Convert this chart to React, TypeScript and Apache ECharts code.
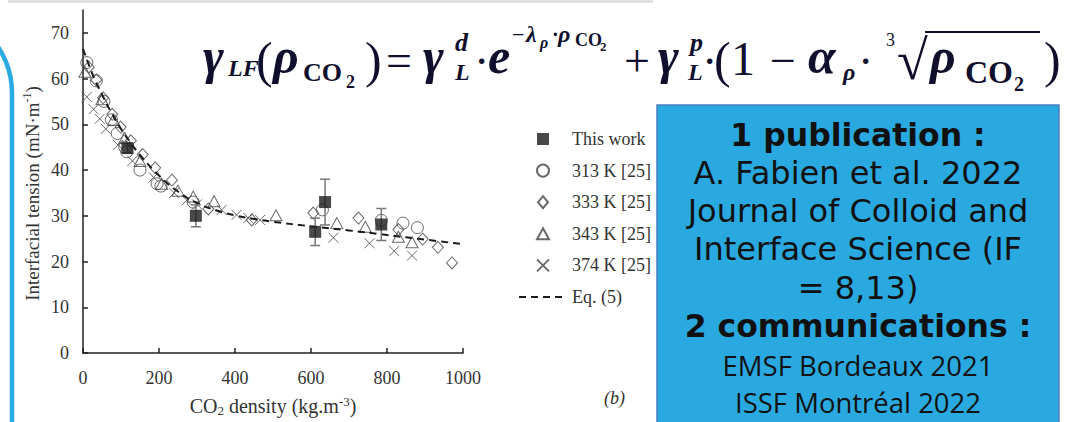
import React, { useEffect, useRef } from "react";
import * as echarts from "echarts";

const xTicks = [0, 200, 400, 600, 800, 1000];
const yTicks = [0, 10, 20, 30, 40, 50, 60, 70];

const thisWorkX = [117, 297, 611, 637, 785];
const thisWorkY = [44.8, 30.0, 26.5, 33.0, 28.1];
const thisWorkErr = [1.0, 2.4, 3.0, 5.0, 3.5];

const k313X = [10, 35, 55, 75, 90, 110, 115, 150, 195, 205, 290, 630, 785, 842, 880];
const k313Y = [63.5, 59.5, 55, 51, 48, 45, 44, 40, 37, 36.5, 33, 31.3, 29, 28.4, 27.4];

const k333X = [15, 35, 53, 77, 99, 126, 157, 190, 234, 330, 444, 606, 725, 830, 894, 934, 971];
const k333Y = [62.5, 59.7, 55.8, 52.2, 49.4, 46.4, 43.4, 40.5, 37.8, 31.5, 29.1, 30.6, 29.5, 27, 24.9, 23.1, 19.7];

const k343X = [5, 50, 80, 110, 150, 207, 250, 290, 345, 508, 668, 743, 830, 866];
const k343Y = [61.5, 55.5, 51, 47, 42, 37, 35.5, 34.2, 33.2, 30.1, 28.4, 27.6, 25.4, 24.2];

const k374X = [10, 28, 44, 60, 92, 130, 186, 240, 273, 300, 365, 404, 435, 466, 659, 754, 819, 866];
const k374Y = [56, 53.3, 51.2, 49, 45.5, 42, 38.4, 35, 33.4, 32.5, 31.3, 30.2, 29.5, 29.1, 25.2, 24, 22.3, 21.3];

const eqX = [0, 25, 50, 75, 100, 125, 150, 200, 250, 300, 350, 400, 450, 500, 600, 700, 800, 900, 1000];
const eqY = [66.5, 61, 56.5, 52.5, 49, 46, 43.3, 38.8, 35.3, 32.8, 31.2, 30.1, 29.3, 28.7, 27.7, 26.8, 25.8, 24.8, 23.8];

const legendNames = ["This work", "313 K [25]", "333 K [25]", "343 K [25]", "374 K [25]", "Eq. (5)"];

const boxLines = [
  "1 publication :",
  "A. Fabien et al. 2022",
  "Journal of Colloid and",
  "Interface Science (IF",
  "= 8,13)",
  "2 communications :",
  "EMSF Bordeaux 2021",
  "ISSF Montréal 2022",
];

const SERIF = "Liberation Serif";
const MATH = "#10102e";

function ft(text: string, x: number, y: number, size: number, bold = true, italic = true) {
  return {
    type: "text",
    x,
    y,
    z: 100,
    style: {
      text,
      fontFamily: SERIF,
      fontSize: size,
      fontWeight: bold ? "bold" : "normal",
      fontStyle: italic ? "italic" : "normal",
      fill: MATH,
      align: "left",
      verticalAlign: "middle",
    },
  };
}

function pairs(xs: number[], ys: number[]) {
  return xs.map((x, i) => [x, ys[i]]);
}

// legend icon shapes padded to a 48x12 box so they keep their aspect
const BOX = "M0,0L0,0M48,12L48,12";
const legendIcons: Record<string, string> = {
  "This work": "path://" + BOX + "M18,0L30,0L30,12L18,12Z",
  "333 K [25]": "path://" + BOX + "M24,0L29,6L24,12L19,6Z",
  "343 K [25]": "path://" + BOX + "M24,0.5L30,11.5L18,11.5Z",
};

export default function App() {
  const ref = useRef<HTMLDivElement>(null);
  useEffect(() => {
    if (!ref.current) return;
    const chart = echarts.init(ref.current, null, { renderer: "svg" });
    const gray = "#444";
    const hollow = (color: string) => ({ color: "transparent", borderColor: color, borderWidth: 1 });

    const formula = [
      ft("γ", 203, 56, 50),
      ft("LF", 228, 68, 24),
      ft("(", 256, 60, 50, false, false),
      ft("ρ", 273, 56, 50),
      ft("CO", 303, 72, 26, true, false),
      ft("2", 346, 82, 18, true, false),
      ft(")", 365, 60, 50, false, false),
      ft("=", 386, 60, 46, false, false),
      ft("γ", 423, 56, 50),
      ft("d", 455, 42, 26),
      ft("L", 455, 72, 24),
      ft("·", 476, 60, 34, true, false),
      ft("e", 488, 56, 50),
      ft("−", 512, 34, 22, false, false),
      ft("λ", 526, 34, 24),
      ft("ρ", 540, 42, 16),
      ft("·", 552, 34, 20, true, false),
      ft("ρ", 558, 34, 24),
      ft("CO", 575, 40, 18, true, false),
      ft("2", 600, 46, 13, true, false),
      ft("+", 624, 60, 46, false, false),
      ft("γ", 658, 56, 50),
      ft("p", 690, 42, 26),
      ft("L", 688, 72, 24),
      ft("·", 704, 60, 34, true, false),
      ft("(", 714, 60, 50, false, false),
      ft("1", 731, 58, 48, false, false),
      ft("−", 770, 60, 46, false, false),
      ft("α", 808, 56, 50),
      ft("ρ", 843, 72, 24),
      ft("·", 860, 60, 34, true, false),
      ft("3", 886, 40, 18, false, false),
      ft("√", 897, 60, 56, false, false),
      {
        type: "line",
        z: 100,
        shape: { x1: 925, y1: 32, x2: 1040, y2: 32 },
        style: { stroke: MATH, lineWidth: 2 },
      },
      ft("ρ", 930, 56, 50),
      ft("CO", 965, 72, 32, true, false),
      ft("2", 1014, 84, 20, true, false),
      ft(")", 1044, 60, 50, false, false),
    ];

    const boxY = [135, 173, 211, 249, 288, 326, 365, 402];
    const boxText = boxLines.map((t, i) => {
      const bold = i === 0 || i === 5;
      const small = i >= 6;
      return {
        type: "text",
        x: 858,
        y: boxY[i],
        z: 20,
        style: {
          text: t,
          fontFamily: small ? "Open Sans" : "DejaVu Sans",
          fontSize: small ? 27.5 : bold ? 31.5 : 32,
          fontWeight: bold ? "bold" : "normal",
          fill: "#111",
          align: "center",
          verticalAlign: "middle",
        },
      };
    });

    const option: any = {
      animation: false,
      backgroundColor: "#fff",
      grid: { left: 83, top: 10, width: 380, height: 352 },
      legend: {
        orient: "vertical",
        left: 513,
        top: 125,
        itemWidth: 48,
        itemHeight: 12,
        itemGap: 13.6,
        textStyle: { fontFamily: SERIF, fontSize: 18, color: "#333" },
        data: legendNames.map((n) => {
          if (n === "Eq. (5)") return { name: n, itemStyle: { color: "transparent", borderWidth: 0, opacity: 0 } };
          if (legendIcons[n]) return { name: n, icon: legendIcons[n] };
          return { name: n };
        }),
      },
      xAxis: {
        type: "value",
        min: 0,
        max: 1000,
        interval: 200,
        axisLine: { lineStyle: { color: "#222", width: 1.5 } },
        axisTick: { inside: true, length: 5, lineStyle: { color: "#222", width: 1.5 } },
        axisLabel: {
          fontFamily: SERIF,
          fontSize: 18,
          color: "#333",
          margin: 16,
          customValues: xTicks,
          formatter: (v: number) => String(v),
        },
        splitLine: { show: false },
        name: "{a|CO}{b|2}{a| density (kg.m}{s|-3}{a|)}",
        nameLocation: "middle",
        nameGap: 42,
        nameTextStyle: {
          rich: {
            a: { fontFamily: SERIF, fontSize: 20, color: "#333", lineHeight: 22, verticalAlign: "middle" },
            b: { fontFamily: SERIF, fontSize: 13, color: "#333", lineHeight: 12, verticalAlign: "bottom" },
            s: { fontFamily: SERIF, fontSize: 13, color: "#333", lineHeight: 12, verticalAlign: "top" },
          },
        },
      },
      yAxis: {
        type: "value",
        min: 0,
        max: 75,
        interval: 10,
        axisLine: { lineStyle: { color: "#222", width: 1.5 } },
        axisTick: { inside: true, length: 5, lineStyle: { color: "#222", width: 1.5 }, customValues: yTicks },
        axisLabel: { fontFamily: SERIF, fontSize: 18, color: "#333", margin: 14, customValues: yTicks },
        splitLine: { show: false },
        name: "{a|Interfacial tension (mN·m}{s|-1}{a|)}",
        nameLocation: "middle",
        nameGap: 40,
        nameTextStyle: {
          padding: [0, 24, 0, 0],
          rich: {
            a: { fontFamily: SERIF, fontSize: 19, color: "#333", lineHeight: 22, verticalAlign: "middle" },
            s: { fontFamily: SERIF, fontSize: 12, color: "#333", lineHeight: 12, verticalAlign: "top" },
          },
        },
      },
      series: [
        {
          name: "313 K [25]",
          type: "scatter",
          symbol: "circle",
          symbolSize: 12,
          itemStyle: hollow(gray),
          data: pairs(k313X, k313Y),
        },
        {
          name: "333 K [25]",
          type: "scatter",
          symbol: "diamond",
          symbolSize: [11, 12],
          itemStyle: hollow(gray),
          data: pairs(k333X, k333Y),
        },
        {
          name: "343 K [25]",
          type: "scatter",
          symbol: "triangle",
          symbolSize: [12, 11],
          itemStyle: hollow(gray),
          data: pairs(k343X, k343Y),
        },
        {
          name: "374 K [25]",
          type: "scatter",
          symbol: "path://M0,0L10,10M10,0L0,10",
          symbolSize: 10,
          itemStyle: hollow(gray),
          data: pairs(k374X, k374Y),
        },
        {
          name: "Eq. (5)",
          type: "line",
          symbol: "none",
          smooth: true,
          lineStyle: { color: "#1a1a1a", width: 2, type: [7, 5] },
          itemStyle: { color: "#1a1a1a" },
          data: pairs(eqX, eqY),
          z: 3,
        },
        {
          name: "err",
          type: "custom",
          z: 4,
          data: thisWorkX.map((x, i) => [x, thisWorkY[i], thisWorkErr[i]]),
          renderItem: (params: any, api: any) => {
            const x = api.value(0);
            const y = api.value(1);
            const e = api.value(2);
            const top = api.coord([x, y + e]);
            const bot = api.coord([x, y - e]);
            const h = 5;
            const st = { stroke: "#777", lineWidth: 1.5 };
            return {
              type: "group",
              children: [
                { type: "line", shape: { x1: top[0], y1: top[1], x2: bot[0], y2: bot[1] }, style: st },
                { type: "line", shape: { x1: top[0] - h, y1: top[1], x2: top[0] + h, y2: top[1] }, style: st },
                { type: "line", shape: { x1: bot[0] - h, y1: bot[1], x2: bot[0] + h, y2: bot[1] }, style: st },
              ],
            };
          },
        },
        {
          name: "This work",
          type: "scatter",
          symbol: "rect",
          symbolSize: 12,
          z: 5,
          itemStyle: { color: "#1a1a1a" },
          data: pairs(thisWorkX, thisWorkY),
        },
      ],
      graphic: [
        {
          type: "line",
          shape: { x1: 8, y1: 1.5, x2: 653, y2: 1.5 },
          style: { stroke: "#dcdcdc", lineWidth: 2.5 },
        },
        {
          type: "rect",
          shape: { x: -300, y: 10, width: 312, height: 700, r: 83 },
          style: { fill: "none", stroke: "#29abe2", lineWidth: 4.5 },
        },
        {
          type: "text",
          x: 604,
          y: 398,
          style: { text: "(b)", fontFamily: SERIF, fontSize: 18, fontStyle: "italic", fill: "#333", align: "left", verticalAlign: "middle" },
        },
        {
          type: "rect",
          z: 10,
          shape: { x: 657, y: 105, width: 402, height: 340 },
          style: { fill: "#2aa9e0", stroke: "#4a80c0", lineWidth: 1.5 },
        },
        ...boxText,
        ...formula,
      ],
    };
    chart.setOption(option);
    return () => chart.dispose();
  }, []);
  return (
    <div
      ref={ref}
      style={{ position: "fixed", left: 0, top: 0, width: 1066, height: 422, background: "#fff" }}
    />
  );
}
